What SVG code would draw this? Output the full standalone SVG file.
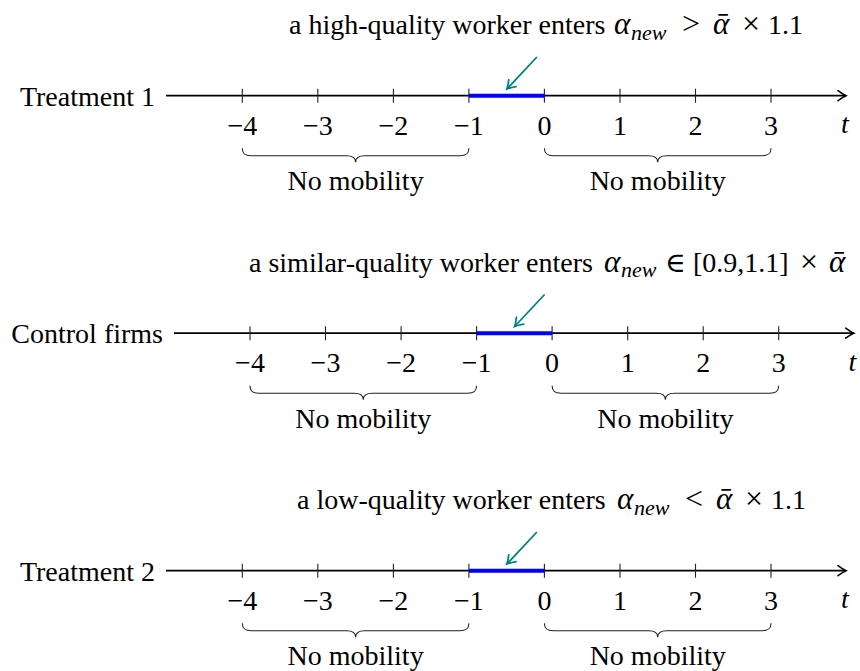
<svg xmlns="http://www.w3.org/2000/svg" width="860" height="671" viewBox="0 0 860 671">
<defs>
<marker id="ax" viewBox="-10 -6 12 12" refX="0" refY="0" markerWidth="12" markerHeight="12" markerUnits="userSpaceOnUse" orient="auto">
<path d="M-8,-5 Q-3,-1.2 0,0 Q-3,1.2 -8,5" fill="none" stroke="#000" stroke-width="1.6" stroke-linecap="round"/>
</marker>
<marker id="gr" viewBox="-10 -6 12 12" refX="0" refY="0" markerWidth="12" markerHeight="12" markerUnits="userSpaceOnUse" orient="auto">
<path d="M-8,-5 Q-3,-1.2 0,0 Q-3,1.2 -8,5" fill="none" stroke="#008080" stroke-width="1.8" stroke-linecap="round"/>
</marker>
</defs>
<style>
text{font-family:"Liberation Serif","DejaVu Serif",serif;font-size:28px;fill:#000}
.m{text-anchor:middle}
.e{text-anchor:end}
.it{font-style:italic}
.al{font-style:italic;font-size:31px}
.sub{font-style:italic;font-size:22px}
.op{font-size:32px}
.axis{stroke:#000;stroke-width:1.8;fill:none}
.tick{stroke:#222;stroke-width:1.1}
.blue{stroke:#0000ff;stroke-width:4}
.green{stroke:#008080;stroke-width:1.8;fill:none}
.brace{stroke:#222;stroke-width:1.1;fill:none}
</style>

<!-- Panel 1 -->
<g id="panel1">
<g id="title1"><text x="289" y="34.2">a high-quality worker enters <tspan class="al" x="614">α</tspan><tspan class="sub" x="631" y="39.5">new</tspan><tspan class="op" x="682" y="34.2">&gt;</tspan><tspan class="al" x="713">ᾱ</tspan><tspan class="op" x="742">×</tspan><tspan x="768">1.1</tspan></text></g>
<g id="label1"><text class="e" x="155" y="105.5">Treatment 1</text></g>
<g id="axis1">
<path class="axis" d="M166,95.7 H846" marker-end="url(#ax)"/>
<path class="tick" d="M242.3,88.7V102.7M317.8,88.7V102.7M393.4,88.7V102.7M468.9,88.7V102.7M544.4,88.7V102.7M620,88.7V102.7M695.5,88.7V102.7M771,88.7V102.7"/>
<path class="blue" d="M468.9,95.7H544.4"/>
</g>
<g id="ticks1">
<text class="m" x="242.3" y="134.5">−4</text>
<text class="m" x="317.8" y="134.5">−3</text>
<text class="m" x="393.4" y="134.5">−2</text>
<text class="m" x="468.9" y="134.5">−1</text>
<text class="m" x="544.4" y="134.5">0</text>
<text class="m" x="620" y="134.5">1</text>
<text class="m" x="695.5" y="134.5">2</text>
<text class="m" x="771" y="134.5">3</text>
<text class="m it" x="845" y="133">t</text>
</g>
<g id="braces1">
<path class="brace" d="M242.3,148.2 C242.3,154 245.3,155.7 251.3,155.7 H346.6 C352.6,155.7 355.6,157.2 355.6,162.2 C355.6,157.2 358.6,155.7 364.6,155.7 H459.9 C465.9,155.7 468.9,154 468.9,148.2"/>
<path class="brace" d="M544.4,148.2 C544.4,154 547.4,155.7 553.4,155.7 H648.7 C654.7,155.7 657.7,157.2 657.7,162.2 C657.7,157.2 660.7,155.7 666.7,155.7 H762 C768,155.7 771,154 771,148.2"/>
<text class="m" x="355.6" y="190">No mobility</text>
<text class="m" x="657.7" y="190">No mobility</text>
</g>
</g>

<!-- Panel 2 -->
<g id="panel2">
<g id="title2"><text x="249" y="271.7">a similar-quality worker enters <tspan class="al" x="604">α</tspan><tspan class="sub" x="621" y="277">new</tspan><tspan x="665" y="271.7">∈</tspan><tspan x="693">[0.9,1.1]</tspan><tspan class="op" x="800">×</tspan><tspan class="al" x="829">ᾱ</tspan></text></g>
<g id="label2"><text class="e" x="163" y="343">Control firms</text></g>
<g id="axis2">
<path class="axis" d="M174,333.2 H853.7" marker-end="url(#ax)"/>
<path class="tick" d="M250,326.2V340.2M325.5,326.2V340.2M401.1,326.2V340.2M476.6,326.2V340.2M552.1,326.2V340.2M627.7,326.2V340.2M703.2,326.2V340.2M778.7,326.2V340.2"/>
<path class="blue" d="M476.6,333.2H552.1"/>
</g>
<g id="ticks2">
<text class="m" x="250" y="372">−4</text>
<text class="m" x="325.5" y="372">−3</text>
<text class="m" x="401.1" y="372">−2</text>
<text class="m" x="476.6" y="372">−1</text>
<text class="m" x="552.1" y="372">0</text>
<text class="m" x="627.7" y="372">1</text>
<text class="m" x="703.2" y="372">2</text>
<text class="m" x="778.7" y="372">3</text>
<text class="m it" x="852.5" y="370.5">t</text>
</g>
<g id="braces2">
<path class="brace" d="M250,385.7 C250,391.5 253,393.2 259,393.2 H354.3 C360.3,393.2 363.3,394.7 363.3,399.7 C363.3,394.7 366.3,393.2 372.3,393.2 H467.6 C473.6,393.2 476.6,391.5 476.6,385.7"/>
<path class="brace" d="M552.1,385.7 C552.1,391.5 555.1,393.2 561.1,393.2 H656.4 C662.4,393.2 665.4,394.7 665.4,399.7 C665.4,394.7 668.4,393.2 674.4,393.2 H769.7 C775.7,393.2 778.7,391.5 778.7,385.7"/>
<text class="m" x="363.3" y="427.5">No mobility</text>
<text class="m" x="665.4" y="427.5">No mobility</text>
</g>
</g>

<!-- Panel 3 -->
<g id="panel3">
<g id="title3"><text x="297" y="509.2">a low-quality worker enters <tspan class="al" x="617">α</tspan><tspan class="sub" x="634" y="514.5">new</tspan><tspan class="op" x="685" y="509.2">&lt;</tspan><tspan class="al" x="716">ᾱ</tspan><tspan class="op" x="745">×</tspan><tspan x="771">1.1</tspan></text></g>
<g id="label3"><text class="e" x="155" y="580.5">Treatment 2</text></g>
<g id="axis3">
<path class="axis" d="M166,570.7 H846" marker-end="url(#ax)"/>
<path class="tick" d="M242.3,563.7V577.7M317.8,563.7V577.7M393.4,563.7V577.7M468.9,563.7V577.7M544.4,563.7V577.7M620,563.7V577.7M695.5,563.7V577.7M771,563.7V577.7"/>
<path class="blue" d="M468.9,570.7H544.4"/>
</g>
<g id="ticks3">
<text class="m" x="242.3" y="609.5">−4</text>
<text class="m" x="317.8" y="609.5">−3</text>
<text class="m" x="393.4" y="609.5">−2</text>
<text class="m" x="468.9" y="609.5">−1</text>
<text class="m" x="544.4" y="609.5">0</text>
<text class="m" x="620" y="609.5">1</text>
<text class="m" x="695.5" y="609.5">2</text>
<text class="m" x="771" y="609.5">3</text>
<text class="m it" x="845" y="608">t</text>
</g>
<g id="braces3">
<path class="brace" d="M242.3,623.2 C242.3,629 245.3,630.7 251.3,630.7 H346.6 C352.6,630.7 355.6,632.2 355.6,637.2 C355.6,632.2 358.6,630.7 364.6,630.7 H459.9 C465.9,630.7 468.9,629 468.9,623.2"/>
<path class="brace" d="M544.4,623.2 C544.4,629 547.4,630.7 553.4,630.7 H648.7 C654.7,630.7 657.7,632.2 657.7,637.2 C657.7,632.2 660.7,630.7 666.7,630.7 H762 C768,630.7 771,629 771,623.2"/>
<text class="m" x="355.6" y="664.5">No mobility</text>
<text class="m" x="657.7" y="664.5">No mobility</text>
</g>
</g>

<!-- connectors: annotation arrows -->
<g id="connectors">
<path class="green" d="M536.9,57 L506.9,89" marker-end="url(#gr)"/>
<path class="green" d="M544.6,294.5 L514.6,326.5" marker-end="url(#gr)"/>
<path class="green" d="M536.9,532 L506.9,564" marker-end="url(#gr)"/>
</g>
</svg>
